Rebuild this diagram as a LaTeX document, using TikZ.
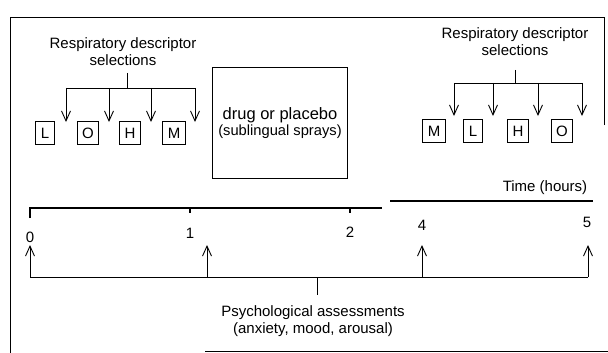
\documentclass[tikz,border=0pt]{standalone}
\usepackage{fontspec}
\setmainfont{Liberation Sans}
\usetikzlibrary{arrows.meta}

\begin{document}
\begin{tikzpicture}[x=1pt,y=-1pt,line width=0.9pt,
    lbl/.style={font=\fontsize{15}{17}\selectfont,align=center},
    letterbox/.style={draw,line width=1.1pt,minimum height=23pt,inner xsep=5pt,inner ysep=1pt,font=\fontsize{15}{17}\selectfont},
    pick/.style={-{Straight Barb[length=10pt,width=9pt]}}]
    \useasboundingbox (0,0) rectangle (608,353);
    % frame
    \draw (604,125) -- (604,17) -- (10,17) -- (10,353);
    \draw (205,351) -- (608,351);

    % first descriptor selections
    \node[lbl] (titleA) at (123,52) {Respiratory descriptor\\selections};
    \coordinate (topA) at (127,73);
    \coordinate (stemA) at (127,88);
    \draw (topA) -- (stemA);
    \foreach \x/\c [count=\i] in {45/L,88/O,130/H,174/M} {
        \node[letterbox] (a\i) at (\x,133) {\c};
        \coordinate (ta\i) at (\x+21,122);
        \coordinate (ba\i) at (\x+21,88);
        \draw[pick] (ba\i) -- (ta\i);
    }
    \draw (ba1) -- (ba4);

    % drug
    \node[draw,line width=1pt,minimum width=135pt,minimum height=110pt,align=center,
        font=\fontsize{14.7}{16}\selectfont] (drug) at (280,123)
        {{\fontsize{16.5}{19}\selectfont drug or placebo}\\(sublingual sprays)};

    % second descriptor selections
    \node[lbl] (titleB) at (515,42) {Respiratory descriptor\\selections};
    \coordinate (topB) at (515,70);
    \coordinate (stemB) at (515,83);
    \draw (topB) -- (stemB);
    \foreach \x/\c [count=\i] in {434/M,473/L,518/H,562/O} {
        \node[letterbox] (b\i) at (\x,131) {\c};
        \coordinate (tb\i) at (\x+20,116);
        \coordinate (bb\i) at (\x+20,83);
        \draw[pick] (bb\i) -- (tb\i);
    }
    \draw (bb1) -- (bb4);

    % time axis
    \node[lbl,anchor=east] (time) at (591,188) {Time (hours)};
    \coordinate (t0) at (30,208);
    \coordinate (t0b) at (30,218);
    \coordinate (t1) at (190,208);
    \coordinate (t2) at (350,208);
    \coordinate (tend) at (382,208);
    \draw[line width=1.1pt] (t0b) -- (t0) -- (tend);
    \draw[line width=1.1pt] (t1) -- ++(0,5);
    \draw[line width=1.1pt] (t2) -- ++(0,5);
    \coordinate (s4) at (390,201);
    \coordinate (s5) at (593,201);
    \draw[line width=1.1pt] (s4) -- (s5);
    \node[lbl] (h0) at (30,237) {0};
    \node[lbl] (h1) at (190,233) {1};
    \node[lbl] (h2) at (350,232) {2};
    \node[lbl] (h4) at (422,225) {4};
    \node[lbl] (h5) at (587,222) {5};

    % assessments
    \foreach \x [count=\i] in {30,207,422,588} {
        \coordinate (q\i) at (\x,277);
        \coordinate (r\i) at (\x,245);
        \draw[pick] (q\i) -- (r\i);
    }
    \draw (q1) -- (q4);
    \coordinate (qs) at (317,277);
    \coordinate (qe) at (317,295);
    \draw (qs) -- (qe);
    \node[lbl] (psych) at (313,321) {Psychological assessments\\(anxiety, mood, arousal)};
\end{tikzpicture}
\end{document}
